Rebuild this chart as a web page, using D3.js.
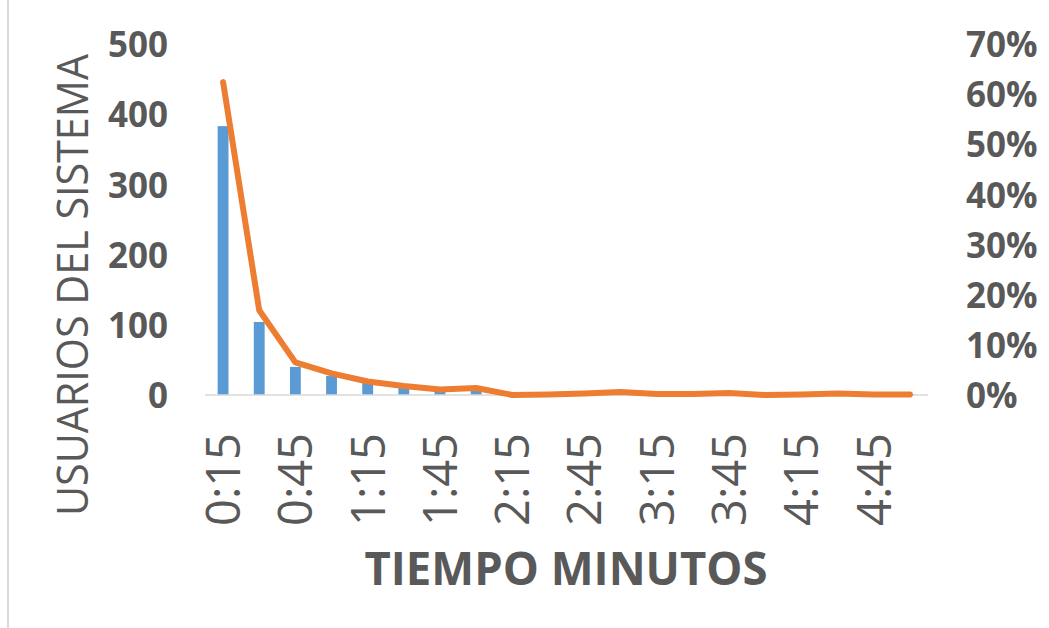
<!DOCTYPE html>
<html>
<head>
<meta charset="utf-8">
<script src="https://cdn.jsdelivr.net/npm/d3@7"></script>
<style>
  html, body { margin: 0; padding: 0; background: #fff; }
  svg { display: block; }
  text { font-family: "Open Sans", "Noto Sans", sans-serif; fill: #595959; }
</style>
</head>
<body>
<svg id="chart" width="1049" height="628"></svg>
<script>
// Time buckets (minutes:seconds of waiting time)
const categories = ["0:15","0:30","0:45","1:00","1:15","1:30","1:45","2:00","2:15","2:30",
                    "2:45","3:00","3:15","3:30","3:45","4:00","4:15","4:30","4:45","5:00"];
// Number of system users per bucket (bars, left axis)
const users = [383, 104, 40, 27, 17, 11, 7, 8, 0, 1, 2, 4, 1, 1, 3, 0, 1, 2, 1, 1];
// Share of users per bucket, in percent (line, right axis)
const share = [62.4, 16.9, 6.5, 4.3, 2.7, 1.8, 1.1, 1.4, 0.0, 0.1,
               0.3, 0.6, 0.2, 0.2, 0.4, 0.0, 0.1, 0.3, 0.1, 0.1];
// Axis ticks
const leftTicks = [0, 100, 200, 300, 400, 500];
const rightTicks = [0, 10, 20, 30, 40, 50, 60, 70];
const shownLabels = ["0:15","0:45","1:15","1:45","2:15","2:45","3:15","3:45","4:15","4:45"];

const svg = d3.select("#chart");
const plot = { left: 205, right: 928, top: 44, bottom: 395 };

const x = d3.scaleBand()
  .domain(categories)
  .range([plot.left, plot.right])
  .paddingInner(0.7)
  .paddingOuter(0.35);
const yL = d3.scaleLinear().domain([0, 500]).range([plot.bottom, plot.top]);
const yR = d3.scaleLinear().domain([0, 70]).range([plot.bottom, plot.top]);

// Faint frame edge on the left
svg.append("line")
  .attr("x1", 8).attr("x2", 8).attr("y1", 0).attr("y2", 628)
  .attr("stroke", "#d9d9d9").attr("stroke-width", 2);

// Bars
svg.append("g").selectAll("rect")
  .data(categories)
  .join("rect")
  .attr("x", d => x(d))
  .attr("width", x.bandwidth())
  .attr("y", (d, i) => yL(users[i]))
  .attr("height", (d, i) => yL(0) - yL(users[i]))
  .attr("fill", "#5B9BD5");

// Category axis line
svg.append("line")
  .attr("x1", plot.left).attr("x2", plot.right)
  .attr("y1", yL(0)).attr("y2", yL(0))
  .attr("stroke", "#d9d9d9").attr("stroke-width", 1.5);

// Share line
const line = d3.line()
  .x((d, i) => x(categories[i]) + x.bandwidth() / 2)
  .y(d => yR(d));
svg.append("path")
  .datum(share)
  .attr("d", line)
  .attr("fill", "none")
  .attr("stroke", "#ED7D31")
  .attr("stroke-width", 6)
  .attr("stroke-linejoin", "round")
  .attr("stroke-linecap", "round");

// Left axis (users)
const axL = d3.axisLeft(yL).tickValues(leftTicks).tickSize(0).tickPadding(0);
const gL = svg.append("g").attr("transform", `translate(168,0)`).call(axL);
gL.select(".domain").remove();
gL.selectAll("text")
  .attr("font-family", null)
  .style("font-size", "35px").style("font-weight", "700")
  .attr("dy", "0.36em").attr("x", 0);

// Right axis (percent)
const axR = d3.axisRight(yR).tickValues(rightTicks).tickSize(0).tickPadding(0)
  .tickFormat(d => d + "%");
const gR = svg.append("g").attr("transform", `translate(966,0)`).call(axR);
gR.select(".domain").remove();
gR.selectAll("text")
  .attr("font-family", null)
  .style("font-size", "35px").style("font-weight", "700")
  .attr("dy", "0.36em").attr("x", 0);

// Category axis labels, rotated
const axB = d3.axisBottom(x).tickValues(shownLabels).tickSize(0).tickPadding(0);
const gB = svg.append("g").attr("transform", `translate(0,${plot.bottom})`).call(axB);
gB.select(".domain").remove();
gB.selectAll("text")
  .attr("font-family", null)
  .style("font-size", "47px").style("font-weight", "400")
  .attr("text-anchor", "end")
  .attr("transform", "rotate(-90)")
  .attr("x", -38)
  .attr("y", 0)
  .attr("dy", "0.36em");

// Axis titles
const yTitle = svg.append("text")
  .attr("transform", "translate(88,285) rotate(-90)")
  .attr("text-anchor", "middle")
  .style("font-size", "44px").style("font-weight", "400")
  .text("USUARIOS DEL SISTEMA");
yTitle.attr("textLength", 462).attr("lengthAdjust", "spacingAndGlyphs");

const xTitle = svg.append("text")
  .attr("x", 566).attr("y", 585)
  .attr("text-anchor", "middle")
  .style("font-size", "46px").style("font-weight", "700")
  .text("TIEMPO MINUTOS");
xTitle.attr("textLength", 403).attr("lengthAdjust", "spacingAndGlyphs");
</script>
</body>
</html>
